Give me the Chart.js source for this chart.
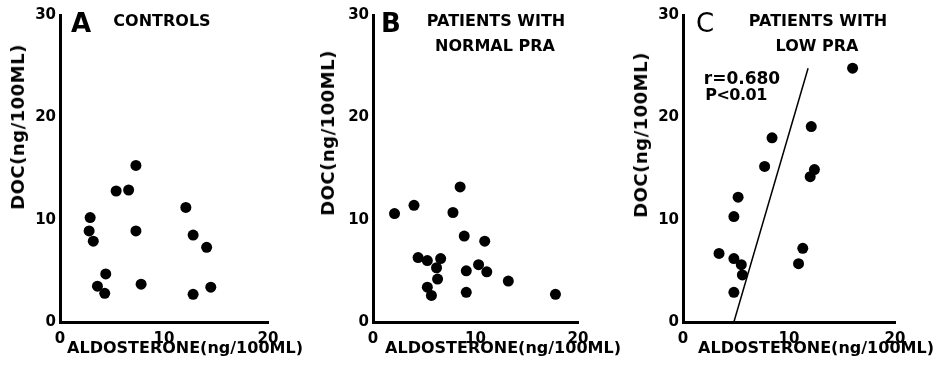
<!DOCTYPE html>
<html>
<head>
<meta charset="utf-8">
<script src="https://cdn.jsdelivr.net/npm/chart.js@4/dist/chart.umd.min.js"></script>
<style>
  html, body { margin: 0; padding: 0; background: #fff; }
  #wrap { position: relative; width: 947px; height: 373px; overflow: hidden; background: #fff; }
  canvas { position: absolute; top: 0; }
  .t { position: absolute; transform: translate(-50%, -50%); white-space: nowrap; line-height: 1;
       font-family: "DejaVu Sans", "Liberation Sans", sans-serif; font-weight: bold; color: #000; }
  .rot { transform: translate(-50%, -50%) rotate(-90deg); }
</style>
</head>
<body>
<div id="wrap">
  <canvas id="cA" width="315" height="373" style="left:0px"></canvas>
  <canvas id="cB" width="315" height="373" style="left:315px"></canvas>
  <canvas id="cC" width="317" height="373" style="left:630px"></canvas>

  <div class="t" style="left:81px;top:23px;font-size:26px;">A</div>
  <div class="t" style="left:162px;top:21px;font-size:16px;">CONTROLS</div>
  <div class="t rot" style="left:18px;top:127px;font-size:18px;letter-spacing:0.5px;">DOC(ng/100ML)</div>
  <div class="t" style="left:185px;top:348px;font-size:16px;">ALDOSTERONE(ng/100ML)</div>

  <div class="t" style="left:391px;top:23px;font-size:26px;">B</div>
  <div class="t" style="left:496px;top:21px;font-size:16px;">PATIENTS WITH</div>
  <div class="t" style="left:495px;top:46px;font-size:16px;">NORMAL PRA</div>
  <div class="t rot" style="left:328px;top:133px;font-size:18px;letter-spacing:0.5px;">DOC(ng/100ML)</div>
  <div class="t" style="left:503px;top:348px;font-size:16px;">ALDOSTERONE(ng/100ML)</div>

  <div class="t" style="left:705px;top:23px;font-size:26px;font-weight:normal;">C</div>
  <div class="t" style="left:818px;top:21px;font-size:16px;">PATIENTS WITH</div>
  <div class="t" style="left:817px;top:46px;font-size:16px;">LOW PRA</div>
  <div class="t" style="left:742px;top:78px;font-size:17px;">r=0.680</div>
  <div class="t" style="left:736px;top:95px;font-size:16px;letter-spacing:-0.5px;">P&lt;0.01</div>
  <div class="t rot" style="left:641px;top:135px;font-size:18px;letter-spacing:0.5px;">DOC(ng/100ML)</div>
  <div class="t" style="left:816px;top:348px;font-size:16px;">ALDOSTERONE(ng/100ML)</div>
</div>
<script>
// ---- Data (aldosterone ng/100ml, DOC ng/100ml) ----
const xTicks = [0, 10, 20];
const yTicks = [0, 10, 20, 30];

const controlsAldo = [2.8, 2.9, 3.2, 3.6, 4.3, 4.4, 5.4, 6.6, 7.3, 7.3, 7.8, 12.1, 12.8, 12.8, 14.1, 14.5];
const controlsDoc  = [8.9, 10.2, 7.9, 3.5, 2.8, 4.7, 12.8, 12.9, 15.3, 8.9, 3.7, 11.2, 8.5, 2.7, 7.3, 3.4];

const normalAldo = [2.1, 4.0, 4.4, 5.3, 5.3, 5.7, 6.2, 6.3, 6.6, 7.8, 8.5, 8.9, 9.1, 9.1, 10.3, 10.9, 11.1, 13.2, 17.8];
const normalDoc  = [10.6, 11.4, 6.3, 6.0, 3.4, 2.6, 5.3, 4.2, 6.2, 10.7, 13.2, 8.4, 5.0, 2.9, 5.6, 7.9, 4.9, 4.0, 2.7];

const lowAldo = [3.4, 4.8, 4.8, 4.8, 5.2, 5.5, 5.6, 7.7, 8.4, 10.9, 11.3, 12.0, 12.1, 12.4, 16.0];
const lowDoc  = [6.7, 10.3, 6.2, 2.9, 12.2, 5.6, 4.6, 15.2, 18.0, 5.7, 7.2, 14.2, 19.1, 14.9, 24.8];

// regression line endpoints (r = 0.680)
const regAldo = [4.8, 11.8];
const regDoc  = [0, 24.8];

function pts(xs, ys) { return xs.map((x, i) => ({ x: x, y: ys[i] })); }

function makeChart(id, canvasW, plotLeft, plotRight, datasets) {
  const H = 373, plotTop = 15, plotBottom = 322;
  const tickFont = { family: "DejaVu Sans", size: 15, weight: "bold" };
  return new Chart(document.getElementById(id), {
    type: 'scatter',
    data: { datasets: datasets },
    options: {
      responsive: false,
      animation: false,
      layout: { padding: { top: plotTop, right: canvasW - plotRight, left: 0, bottom: 0 } },
      plugins: { legend: { display: false }, tooltip: { enabled: false } },
      scales: {
        x: {
          type: 'linear', min: 0, max: 20,
          afterBuildTicks: s => { s.ticks = xTicks.map(v => ({ value: v })); },
          ticks: { font: tickFont, color: '#000', padding: 8 },
          grid: { display: false, drawTicks: false },
          border: { display: true, color: '#000', width: 3 },
          afterFit: s => { s.height = H - plotBottom; }
        },
        y: {
          type: 'linear', min: 0, max: 30,
          afterBuildTicks: s => { s.ticks = yTicks.map(v => ({ value: v })); },
          ticks: { font: tickFont, color: '#000', padding: 4 },
          grid: { display: false, drawTicks: false },
          border: { display: true, color: '#000', width: 3 },
          afterFit: s => { s.width = plotLeft; }
        }
      }
    }
  });
}

const dotStyle = { pointRadius: 5.5, pointBackgroundColor: '#000', pointBorderWidth: 0, backgroundColor: '#000', borderWidth: 0 };

makeChart('cA', 315, 60, 268, [
  Object.assign({ data: pts(controlsAldo, controlsDoc) }, dotStyle)
]);
makeChart('cB', 315, 58, 263, [
  Object.assign({ data: pts(normalAldo, normalDoc) }, dotStyle)
]);
makeChart('cC', 317, 53, 265, [
  Object.assign({ data: pts(lowAldo, lowDoc) }, dotStyle),
  { data: pts(regAldo, regDoc), showLine: true, borderColor: '#000', borderWidth: 1.5, pointRadius: 0, fill: false }
]);
</script>
</body>
</html>
